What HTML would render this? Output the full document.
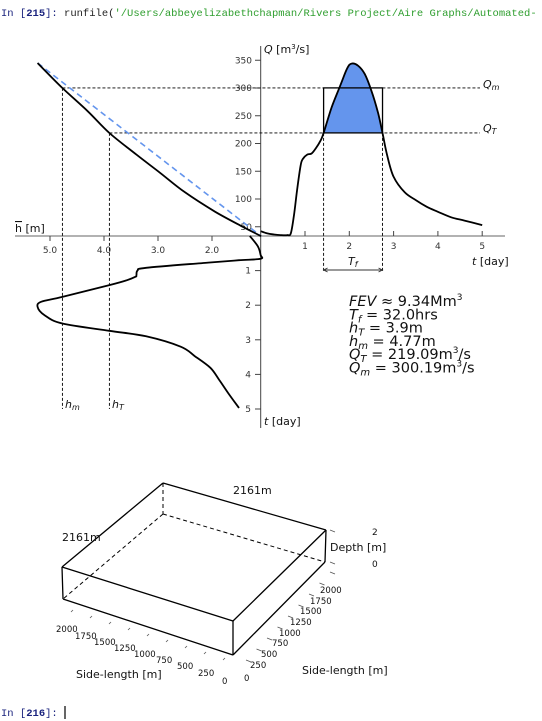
<!DOCTYPE html>
<html><head><meta charset="utf-8"><style>
html,body{margin:0;padding:0;background:#fff;width:542px;height:721px;overflow:hidden}
svg{display:block}
text{font-family:"DejaVu Sans","Liberation Sans",sans-serif}
.tk{font-size:9px;fill:#333}
.ml{font-size:11px;fill:#111}
.cons{font-family:"Liberation Mono","DejaVu Sans Mono",monospace;font-size:10.5px}
</style></head><body>
<svg id="fig" width="542" height="721" viewBox="0 0 542 721" xmlns="http://www.w3.org/2000/svg">
<text class="cons" x="1" y="16"><tspan fill="#1a237e">In [</tspan><tspan fill="#1a237e" font-weight="bold">215</tspan><tspan fill="#1a237e">]: </tspan><tspan fill="#222">runfile(</tspan><tspan fill="#2e9e2e">'/Users/abbeyelizabethchapman/Rivers Project/Aire Graphs/Automated-</tspan></text>
<text class="cons" x="1" y="716"><tspan fill="#1a237e">In [</tspan><tspan fill="#1a237e" font-weight="bold">216</tspan><tspan fill="#1a237e">]: </tspan></text>
<line x1="65" y1="706" x2="65" y2="719" stroke="#000" stroke-width="1.2"/>
<g id="chart"></g>
<g id="box"></g>
</svg>
<script>
// ---- data ----
const hydroT = [0,0.15,0.3,0.45,0.6,0.68,0.75,0.82,0.9,0.95,1.05,1.15,1.25,1.35,1.42,1.6,1.8,1.95,2.05,2.2,2.35,2.5,2.65,2.75,2.85,3.0,3.25,3.5,3.75,4.0,4.3,4.6,5.0];
const hydroQ = [42,38,36,35,35,38,70,115,160,172,180,182,192,205,219,265,305,335,344,340,325,295,255,219,180,140,112,98,86,77,67,61,53];
const rateH = [5.23,4.77,4.3,3.9,3.4,2.96,2.5,1.94,1.43,1.09];
const rateQ = [345,300,258,219,180,147,112,77,50,33];
const linH = [5.23,1.09];
const linQ = [345,33];
const stageT = [0,0.3,0.55,0.66,0.7,0.77,0.92,1.0,1.14,1.18,1.29,1.42,1.76,1.9,2.05,2.29,2.53,2.74,2.9,3.2,3.47,3.81,4.15,4.54,4.97];
const stageH = [1.3,1.15,1.1,1.1,1.5,2.07,3.22,3.38,3.4,3.42,3.6,3.9,4.77,5.16,5.23,5.1,4.77,3.9,3.22,2.58,2.32,2.03,1.87,1.7,1.5];
const qTicks = [50,100,150,200,250,300,350];
const tTicks = [1,2,3,4,5];
const hTicks = [5.0,4.0,3.0,2.0];
const QT = 219.09, QM = 300.19, HT = 3.9, HM = 4.77, T1 = 1.42, T2 = 2.75;
// ---- axes ----
const yQ = q => 254.5 - q*0.555;
const xT = t => 260.7 + 44.3*t;
const xH = h => 320 - 54*h;
const yT = t => 236 + 34.6*t;
const NS='http://www.w3.org/2000/svg';
const g=document.getElementById('chart');
function mk(tag,attrs,parent){const e=document.createElementNS(NS,tag);for(const k in attrs)e.setAttribute(k,attrs[k]);(parent||g).appendChild(e);return e;}
function txt(x,y,s,cls,anchor){const e=mk('text',{x:x,y:y,class:cls||'tk','text-anchor':anchor||'start'});e.innerHTML=s;return e;}
function smooth(p){let d='M'+p[0][0].toFixed(1)+','+p[0][1].toFixed(1);
 for(let i=0;i<p.length-1;i++){const p0=p[i-1]||p[i],p1=p[i],p2=p[i+1],p3=p[i+2]||p2;
  const c1x=p1[0]+(p2[0]-p0[0])/6,c1y=p1[1]+(p2[1]-p0[1])/6,c2x=p2[0]-(p3[0]-p1[0])/6,c2y=p2[1]-(p3[1]-p1[1])/6;
  d+=` C${c1x.toFixed(1)},${c1y.toFixed(1)} ${c2x.toFixed(1)},${c2y.toFixed(1)} ${p2[0].toFixed(1)},${p2[1].toFixed(1)}`;}
 return d;}
// fill
let fpts=[[xT(T1),yQ(QT)]];
for(let i=0;i<hydroT.length;i++){if(hydroT[i]>T1&&hydroT[i]<T2)fpts.push([xT(hydroT[i]),yQ(hydroQ[i])]);}
fpts.push([xT(T2),yQ(QT)]);
const fill=mk('path',{d:smooth(fpts)+'Z',fill:'#6495ed',stroke:'none'});


// axes
const ax1=mk('line',{x1:15,y1:236,x2:505,y2:236,stroke:'#999','stroke-width':1.5});


const ax2=mk('line',{x1:260.7,y1:46,x2:260.7,y2:428,stroke:'#444','stroke-width':1});


qTicks.forEach(q=>{mk('line',{x1:255,y1:yQ(q),x2:260.7,y2:yQ(q),stroke:'#444'});const e=txt(252,yQ(q)+3,q,'tk','end');

});
tTicks.forEach(t=>{mk('line',{x1:xT(t),y1:236,x2:xT(t),y2:231,stroke:'#444'});const e=txt(xT(t),249,t,'tk','middle');


mk('line',{x1:255,y1:yT(t),x2:260.7,y2:yT(t),stroke:'#444'});const e2=txt(251,yT(t)+3,t,'tk','end');

});
hTicks.forEach(h=>{mk('line',{x1:xH(h),y1:236,x2:xH(h),y2:241,stroke:'#444'});const e=txt(xH(h),253,h.toFixed(1),'tk','middle');

});
// reference lines
const dash={stroke:'#000','stroke-width':0.9,'stroke-dasharray':'3,2',fill:'none'};
const l1=mk('line',Object.assign({x1:xH(HM),y1:yQ(QM),x2:480,y2:yQ(QM)},dash));


const l2=mk('line',Object.assign({x1:xH(HT),y1:yQ(QT),x2:480,y2:yQ(QT)},dash));


const l3=mk('line',Object.assign({x1:xH(HM),y1:yQ(QM),x2:xH(HM),y2:yT(5)},dash));


const l4=mk('line',Object.assign({x1:xH(HT),y1:yQ(QT),x2:xH(HT),y2:yT(5)},dash));


mk('line',Object.assign({x1:xT(T1),y1:yQ(QT),x2:xT(T1),y2:271},dash));
mk('line',Object.assign({x1:xT(T2),y1:yQ(QT),x2:xT(T2),y2:271},dash));
const ar=mk('path',{d:`M${xT(T1)},270 L${xT(T2)},270 M${xT(T1)+4},268 L${xT(T1)},270 L${xT(T1)+4},272 M${xT(T2)-4},268 L${xT(T2)},270 L${xT(T2)-4},272`,stroke:'#333','stroke-width':0.9,fill:'none'});


const rect=mk('rect',{x:xT(T1),y:yQ(QM),width:xT(T2)-xT(T1),height:yQ(QT)-yQ(QM),fill:'none',stroke:'#000','stroke-width':1.3});


// curves
function pts(xs,ys,fx,fy){return xs.map((v,i)=>[fx(v),fy(ys[i])]);}
const c1=mk('path',{d:smooth(pts(hydroT,hydroQ,xT,yQ)),fill:'none',stroke:'#000','stroke-width':1.8,'stroke-linejoin':'round'});


const c2=mk('path',{d:smooth(pts(linH,linQ,xH,yQ)),fill:'none',stroke:'#6495ed','stroke-width':1.6,'stroke-dasharray':'6,4'});


const c3=mk('path',{d:smooth(pts(rateH,rateQ,xH,yQ)),fill:'none',stroke:'#000','stroke-width':1.8,'stroke-linejoin':'round'});


const c4=mk('path',{d:smooth(stageH.map((h,i)=>[xH(h),yT(stageT[i])])),fill:'none',stroke:'#000','stroke-width':1.8,'stroke-linejoin':'round'});


// labels
const labs=[
 [264,53,'<tspan font-style="italic">Q</tspan> [m<tspan font-size="7" dy="-4">3</tspan><tspan dy="4">/s]</tspan>','q-axis-title'],
 [472,265,'<tspan font-style="italic">t</tspan> [day]','t-axis-title'],
 [264,425,'<tspan font-style="italic">t</tspan> [day]','lower-t-axis-title'],
 [15,232,'<tspan text-decoration="overline">h</tspan> [m]','h-axis-title'],
 [483,88,'<tspan font-style="italic">Q<tspan font-size="8" dy="2">m</tspan></tspan>','qm-label'],
 [483,132,'<tspan font-style="italic">Q<tspan font-size="8" dy="2">T</tspan></tspan>','qt-label'],
 [65,408,'<tspan font-style="italic">h<tspan font-size="8" dy="2">m</tspan></tspan>','hm-label'],
 [112,408,'<tspan font-style="italic">h<tspan font-size="8" dy="2">T</tspan></tspan>','ht-label'],
 [348,265,'<tspan font-style="italic">T<tspan font-size="8" dy="2">f</tspan></tspan>','tf-label']];
labs.forEach(l=>{const e=txt(l[0],l[1],l[2],'ml');

});
const stats=['<tspan font-style="italic">FEV</tspan> ≈ 9.34Mm<tspan font-size="9" dy="-6">3</tspan>',
 '<tspan font-style="italic">T<tspan font-size="10" dy="3">f</tspan></tspan><tspan dy="-3"> = 32.0hrs</tspan>',
 '<tspan font-style="italic">h<tspan font-size="10" dy="3">T</tspan></tspan><tspan dy="-3"> = 3.9m</tspan>',
 '<tspan font-style="italic">h<tspan font-size="10" dy="3">m</tspan></tspan><tspan dy="-3"> = 4.77m</tspan>',
 '<tspan font-style="italic">Q<tspan font-size="10" dy="3">T</tspan></tspan><tspan dy="-3"> = 219.09m</tspan><tspan font-size="9" dy="-6">3</tspan><tspan dy="6">/s</tspan>',
 '<tspan font-style="italic">Q<tspan font-size="10" dy="3">m</tspan></tspan><tspan dy="-3"> = 300.19m</tspan><tspan font-size="9" dy="-6">3</tspan><tspan dy="6">/s</tspan>'];
stats.forEach((s,i)=>{const e=mk('text',{x:349,y:306+i*13.3,'font-size':14.5,fill:'#111'});e.innerHTML=s;

});
// ---- 3D box ----
const b=document.getElementById('box');
const solid=[[163,483,62,567],[163,483,326,530],[62,567,233,621],[326,530,233,621],[62,567,63,599],[233,621,233,655],[326,530,325,562],[63,599,233,655],[233,655,325,562]];
const hid=[[163,483,163,514],[163,514,63,599],[163,514,325,562]];
solid.forEach(s=>mk('line',{x1:s[0],y1:s[1],x2:s[2],y2:s[3],stroke:'#000','stroke-width':1.3},b));
hid.forEach(s=>mk('line',{x1:s[0],y1:s[1],x2:s[2],y2:s[3],stroke:'#000','stroke-width':1,'stroke-dasharray':'4,3'},b));
const bt=[[62,541,'2161m',11],[233,494,'2161m',11],[330,551,'Depth [m]',11],[372,535,'2',9],[372,567,'0',9],[302,674,'Side-length [m]',11],[76,708-30,'Side-length [m]',11],
[56,632,'2000',8.5],[75,639,'1750',8.5],[94,645,'1500',8.5],[114,651,'1250',8.5],[134,657,'1000',8.5],[156,663,'750',8.5],[177,669,'500',8.5],[198,676,'250',8.5],[222,684,'0',8.5],
[320,593,'2000',8.5],[310,604,'1750',8.5],[300,614,'1500',8.5],[290,625,'1250',8.5],[279,636,'1000',8.5],[272,646,'750',8.5],[261,657,'500',8.5],[250,668,'250',8.5],[244,681,'0',8.5]];
bt.forEach(t=>{const e=mk('text',{x:t[0],y:t[1],'font-size':t[3],fill:'#111'},b);e.textContent=t[2];});
for(let i=0;i<9;i++){mk('line',{x1:71+i*19,y1:612+i*6,x2:73+i*19,y2:610+i*6,stroke:'#555','stroke-width':0.8},b);
mk('line',{x1:330-i*10.5,y1:572+i*11,x2:335-i*10.5,y2:574+i*11,stroke:'#555','stroke-width':0.8},b);}
mk('line',{x1:330,y1:530,x2:335,y2:532,stroke:'#555','stroke-width':0.8},b);
mk('line',{x1:330,y1:562,x2:335,y2:564,stroke:'#555','stroke-width':0.8},b);
</script>
</body></html>
